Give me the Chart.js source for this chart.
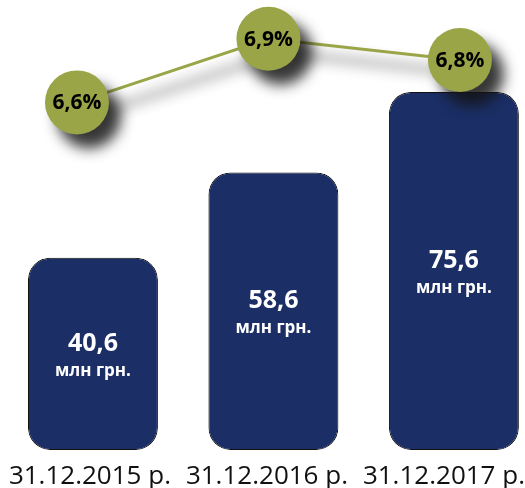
<!DOCTYPE html>
<html>
<head>
<meta charset="utf-8">
<script src="https://cdn.jsdelivr.net/npm/chart.js@4.4.0/dist/chart.umd.min.js"></script>
<style>
  html, body { margin: 0; padding: 0; background: #ffffff; }
  #wrap { width: 525px; height: 488px; position: relative; }
</style>
</head>
<body>
<div id="wrap"><canvas id="debtChart"></canvas></div>
<script>
// Report dates, amounts (млн грн.) and share (%)
const dates = ['31.12.2015 р.', '31.12.2016 р.', '31.12.2017 р.'];
const amounts = [40.6, 58.6, 75.6];
const shares = [6.6, 6.9, 6.8];

const navy = '#1b2f66';
const olive = '#9aa548';

function fmt(v) {
    return v.toFixed(1).replace('.', ',');
}

// one tick per report date
function dateTicks(scale) {
    scale.ticks = dates.map((d, i) => ({ value: i }));
}

// Soft drop shadow under the share line and its circles
const shadowPlugin = {
    id: 'circleShadow',
    beforeDatasetDraw(chart, args) {
        if (args.meta.type !== 'line') return;
        const ctx = chart.ctx;
        ctx.save();
        ctx.shadowColor = 'rgba(20, 20, 20, 0.85)';
        ctx.shadowBlur = 14;
        ctx.shadowOffsetX = 12;
        ctx.shadowOffsetY = 14;
    },
    afterDatasetDraw(chart, args) {
        if (args.meta.type !== 'line') return;
        chart.ctx.restore();
    }
};

// Text inside the bars and on the circles
const valueLabels = {
    id: 'valueLabels',
    afterDatasetsDraw(chart) {
        const ctx = chart.ctx;
        ctx.save();
        ctx.textAlign = 'center';
        ctx.textBaseline = 'middle';

        const bars = chart.getDatasetMeta(0).data;
        bars.forEach(function(bar, i) {
            const mid = (bar.y + bar.base) / 2;
            ctx.fillStyle = '#ffffff';
            ctx.font = 'bold 25px "Open Sans"';
            ctx.fillText(fmt(amounts[i]), bar.x, mid - 10);
            ctx.font = 'bold 17px "Open Sans"';
            ctx.fillText('млн грн.', bar.x, mid + 17);
        });

        const points = chart.getDatasetMeta(1).data;
        points.forEach(function(pt, i) {
            ctx.fillStyle = '#000000';
            ctx.font = 'bold 21px "Open Sans"';
            ctx.fillText(fmt(shares[i]) + '%', pt.x, pt.y + 1);
        });
        ctx.restore();
    }
};

new Chart(document.getElementById('debtChart').getContext('2d'), {
    data: {
        datasets: [{
            type: 'bar',
            data: amounts.map((v, i) => ({ x: i, y: v })),
            xAxisID: 'x',
            yAxisID: 'y',
            backgroundColor: navy,
            borderColor: '#111111',
            borderWidth: 1,
            borderRadius: 22,
            borderSkipped: false,
            grouped: false,
            categoryPercentage: 1,
            barPercentage: 0.72,
            order: 1
        }, {
            type: 'line',
            data: shares.map((v, i) => ({ x: i, y: v })),
            xAxisID: 'x2',
            yAxisID: 'y2',
            borderColor: olive,
            borderWidth: 3,
            pointRadius: 32,
            pointHoverRadius: 32,
            pointBackgroundColor: olive,
            pointBorderWidth: 0,
            clip: false,
            order: 0
        }]
    },
    options: {
        responsive: true,
        maintainAspectRatio: false,
        animation: false,
        layout: { padding: 0, autoPadding: false },
        scales: {
            x: {
                type: 'linear', display: false, offset: false,
                min: -0.515, max: 2.394,
                afterBuildTicks: dateTicks
            },
            x2: { type: 'linear', display: false, min: -0.402, max: 2.340 },
            dates: {
                type: 'linear',
                position: 'bottom',
                min: -0.508,
                max: 2.458,
                afterBuildTicks: dateTicks,
                afterFit: function(scale) {
                    // labels sit well inside the canvas, no side padding wanted
                    scale.paddingLeft = 0;
                    scale.paddingRight = 0;
                    scale.height = 38;
                },
                grid: { display: false, drawTicks: false },
                border: { display: false },
                ticks: {
                    autoSkip: false,
                    maxRotation: 0,
                    padding: 11,
                    color: '#111111',
                    font: { family: '"Open Sans"', size: 26 },
                    callback: function(value) { return dates[value]; }
                }
            },
            y: { display: false, min: 0, max: 95 },
            y2: { display: false, min: 4.96, max: 7.083 }
        },
        plugins: {
            legend: { display: false },
            tooltip: { enabled: false }
        }
    },
    plugins: [shadowPlugin, valueLabels]
});
</script>
</body>
</html>
